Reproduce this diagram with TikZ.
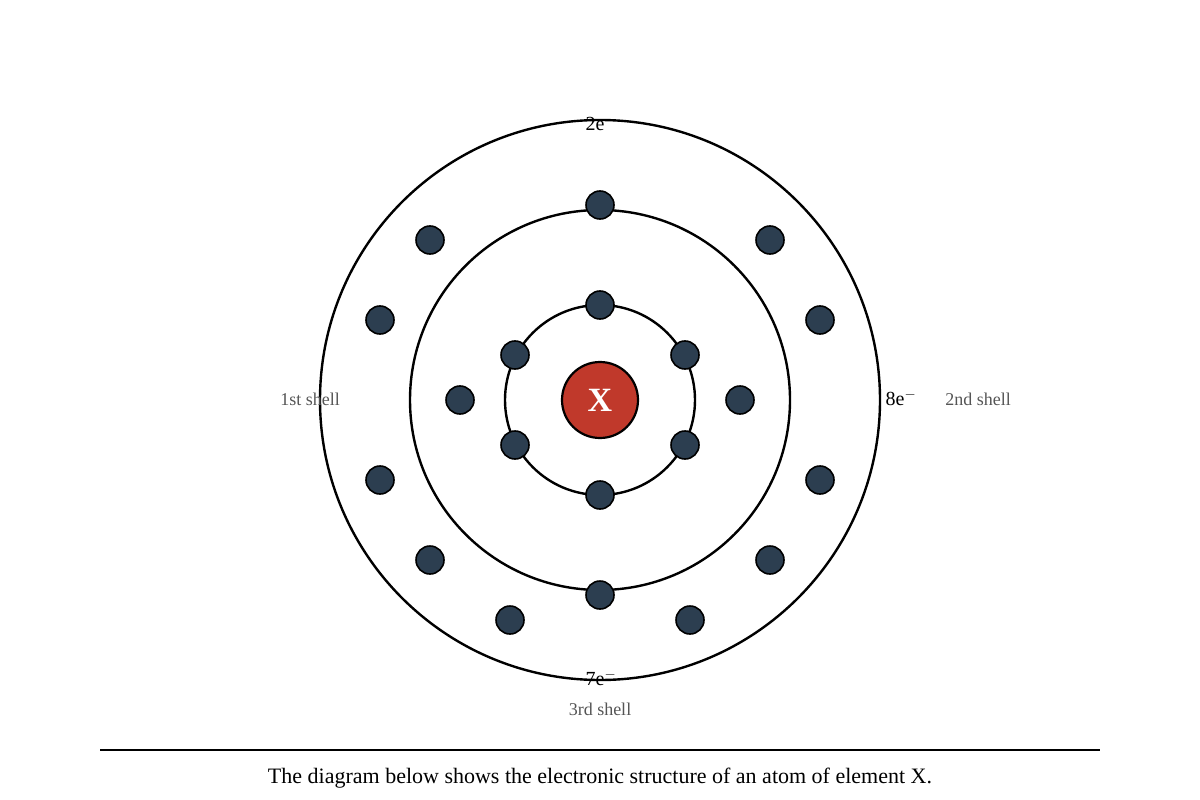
\documentclass[tikz,border=0pt]{standalone}
\usepackage{fontspec}
\setmainfont{Liberation Serif}
\usepackage{xcolor}
\definecolor{nucleusred}{HTML}{C0392B}
\definecolor{electronblue}{HTML}{2C3E50}
\definecolor{labelgrey}{HTML}{555555}

\begin{document}
\begin{tikzpicture}[x=1pt,y=-1pt]
\tikzset{shell/.style={draw=black,line width=2.4pt}}
\tikzset{electron/.style={circle,draw=black,line width=1.6pt,fill=electronblue,minimum size=28pt,inner sep=0pt}}
\tikzset{nucleus/.style={circle,draw=black,line width=2.2pt,fill=nucleusred,minimum size=76pt,inner sep=0pt,text=white,font=\fontsize{34}{34}\selectfont\bfseries}}
\tikzset{count/.style={font=\fontsize{20}{20}\selectfont,text=black}}
\tikzset{shelllabel/.style={font=\fontsize{18}{18}\selectfont,text=labelgrey}}
\useasboundingbox (0,0) rectangle (1200,800);
\draw[shell] (600,400) circle (95);
\draw[shell] (600,400) circle (190);
\draw[shell] (600,400) circle (280);
\node[nucleus] (X) at (600,400) {X};
% inner shell
\foreach \n/\px/\py in {1/600/305,2/685/355,3/685/445,4/600/495,5/515/445,6/515/355}
  \node[electron] (in\n) at (\px,\py) {};
% middle shell
\foreach \n/\px/\py in {1/600/205,2/740/400,3/600/595,4/460/400}
  \node[electron] (mid\n) at (\px,\py) {};
% outer shell
\foreach \n/\px/\py in {1/430/240,2/770/240,3/380/320,4/820/320,5/380/480,6/820/480,7/430/560,8/770/560,9/510/620,10/690/620}
  \node[electron] (out\n) at (\px,\py) {};
\node[count] (c2) at (601,123) {2e$^{-}$};
\node[count] (c8) at (901,398) {8e$^{-}$};
\node[count] (c7) at (601,678) {7e$^{-}$};
\node[shelllabel] (s1) at (310,399) {1st shell};
\node[shelllabel] (s2) at (978,399) {2nd shell};
\node[shelllabel] (s3) at (600,709) {3rd shell};
\coordinate (ruleL) at (100,750);
\coordinate (ruleR) at (1100,750);
\draw[line width=2pt] (ruleL) -- (ruleR);
\node[font=\fontsize{22}{22}\selectfont] (caption) at (600,778) {The diagram below shows the electronic structure of an atom of element X.};
\end{tikzpicture}
\end{document}
